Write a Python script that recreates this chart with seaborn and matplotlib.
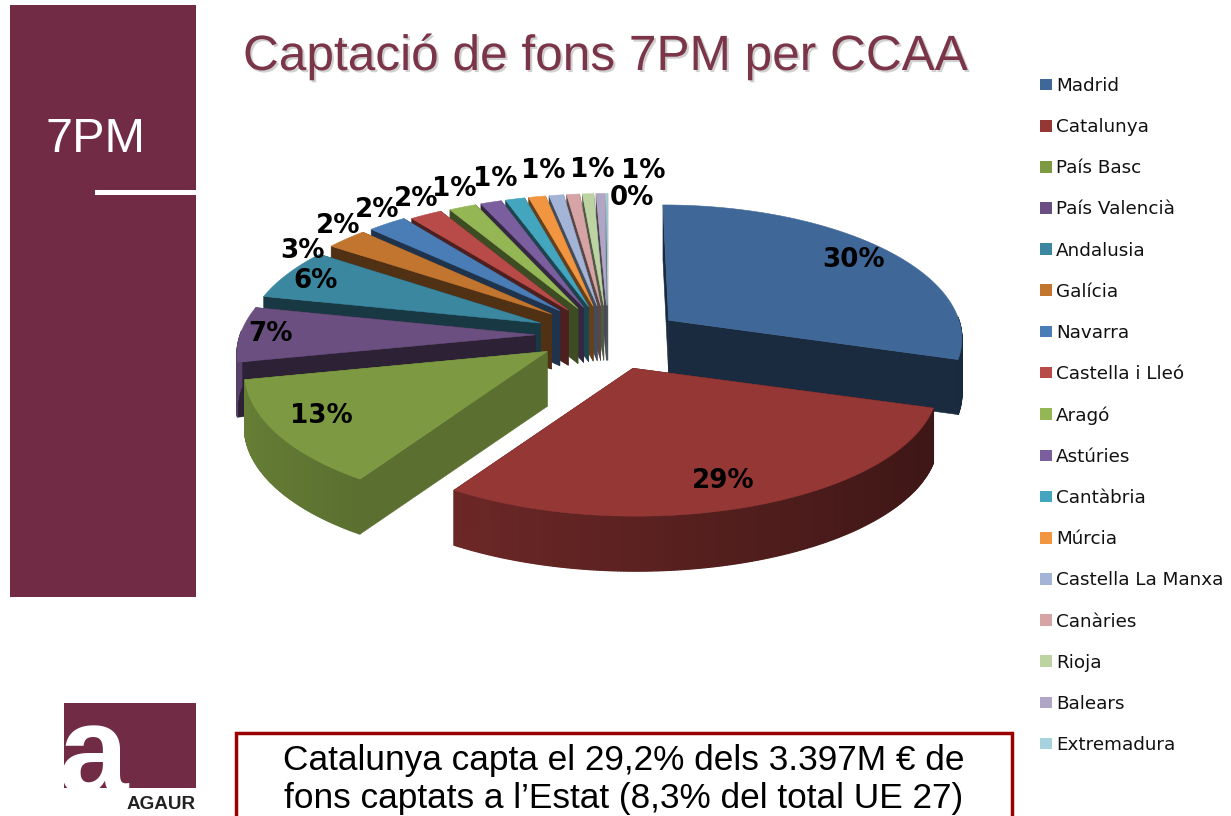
import numpy as np
import matplotlib
matplotlib.use("Agg")
import matplotlib.pyplot as plt
import matplotlib.patheffects as pe
from matplotlib.patches import Patch, Rectangle
import seaborn as sns

# ---- data ----
regions = ["Madrid", "Catalunya", "País Basc", "País Valencià", "Andalusia", "Galícia",
           "Navarra", "Castella i Lleó", "Aragó", "Astúries", "Cantàbria", "Múrcia",
           "Castella La Manxa", "Canàries", "Rioja", "Balears", "Extremadura"]
shares = [29.6, 29.2, 12.6, 6.6, 6.2, 2.6, 2.4, 2.0, 1.7, 1.3, 1.2, 1.05, 0.9, 0.8, 0.7, 0.55, 0.1]
colors = ["#3F6797", "#953735", "#7D9A42", "#6A4F80", "#3A879F", "#C2752F", "#4A7CB6", "#B84A48",
          "#94B655", "#7B5E9E", "#44A5BF", "#F29540", "#A3B4D6", "#D6A4A4", "#BDD4A2", "#B0A5C5", "#A6D3DE"]
title = "Captació de fons 7PM per CCAA"
note_lines = ["Catalunya capta el 29,2% dels 3.397M € de", "fons captats a l’Estat (8,3% del total UE 27)"]

# ---- layout ----
W, H = 1231, 816
MAROON = "#722B45"
CX, CY, RX, RY, K, DEPTH = 608, 335, 295, 132, 0.12, 55
explode = [0.23] * 17
nudge = {0: (7, 3), 1: (1, 4), 2: (-4, -1), 3: (-5, 0), 4: (-6, 0), 5: (-5, -2), 6: (-4, -2), 7: (-3, 0)}
xscale = {0: 1.0, 1: 1.0}
yscale = {0: 1.01, 1: 0.94}
cut_shade = {2: 0.72}
label_xy = {0: (854, 260), 1: (723, 481), 2: (321, 416), 3: (271, 334), 4: (316, 281), 5: (302, 251),
            6: (338, 226), 7: (377, 210), 8: (416, 199), 9: (454, 189), 10: (495, 179), 11: (543, 171),
            14: (592, 170), 15: (643, 171), 16: (632, 198)}

sns.set_theme(style="white", rc={"axes.facecolor": "white"})
palette = sns.color_palette(colors)

fig = plt.figure(figsize=(W / 100, H / 100), dpi=100)
ax = fig.add_axes([0, 0, 1, 1])
ax.set_xlim(0, W)
ax.set_ylim(H, 0)
ax.axis("off")


def project(X, Y, i):
    w = 1 + K * Y
    nx, ny = nudge.get(i, (0, 0))
    return CX + RX * X / w + nx, CY - RY * Y / w + ny


def darken(c, f):
    return tuple(min(1, v * f) for v in c)


def poly(xs, ys, color, z, lw=0.4):
    ax.fill(xs, ys, facecolor=color, edgecolor=color, lw=lw, zorder=z)


# side panel
ax.add_patch(Rectangle((10, 5), 186, 592, fc=MAROON, ec="none", zorder=1))
ax.text(45, 152, "7PM", color="white", fontsize=35, family="Liberation Sans", va="baseline", zorder=2)
ax.add_patch(Rectangle((95, 190), 101, 5, fc="white", ec="none", zorder=2))

# title
ax.text(606, 70, title, color="#7A3549", fontsize=35.7, family="Liberation Sans", ha="center", va="baseline", zorder=3,
        path_effects=[pe.SimplePatchShadow(offset=(1.5, -1.5), shadow_rgbFace="#8A8A8A", alpha=0.4), pe.Normal()])

# exploded pie
shares_arr = np.array(shares)
fracs = shares_arr / shares_arr.sum()
edges = 90 - 360 * np.concatenate([[0], np.cumsum(fracs)])
order = [0] + list(range(16, 1, -1)) + [1]
for z, i in enumerate(order):
    t0, t1 = np.radians(edges[i]), np.radians(edges[i + 1])
    m = (t0 + t1) / 2
    ex, ey = explode[i] * np.cos(m), explode[i] * np.sin(m)
    sx, sy = xscale.get(i, 1.0), yscale.get(i, 1.0)
    ts = np.linspace(t0, t1, max(4, int(abs(edges[i] - edges[i + 1]) * 2)))
    ax_, ay_ = project(ex, ey, i)
    px, py = project(ex + sx * np.cos(ts), ey + sy * np.sin(ts), i)
    base = 10 + z * 3
    col = palette[i]
    cut = darken(col, cut_shade.get(i, 0.42))
    # the two cut walls
    for qx, qy in ((px[0], py[0]), (px[-1], py[-1])):
        poly([ax_, qx, qx, ax_], [ay_, qy, qy + DEPTH, ay_ + DEPTH], cut, base)
    # the rim, shaded by where it faces
    for j in range(len(ts) - 1):
        tm = (ts[j] + ts[j + 1]) / 2
        if np.sin(tm) < 0.03:
            f = 0.40 + 0.42 * (0.5 - 0.5 * np.cos(tm))
            poly([px[j], px[j + 1], px[j + 1], px[j]],
                 [py[j], py[j + 1], py[j + 1] + DEPTH, py[j] + DEPTH], darken(col, f), base + 1, lw=0.9)
    # top face
    poly(np.r_[ax_, px], np.r_[ay_, py], col, base + 2)

for i, (lx, ly) in label_xy.items():
    ax.text(lx, ly, f"{round(shares[i])}%", fontsize=18.8, fontweight="bold", family="DejaVu Sans",
            color="black", ha="center", va="center", zorder=90)

# legend
handles = [Patch(fc=palette[i], ec="none", label=regions[i]) for i in range(17)]
leg = ax.legend(handles=handles, loc="upper left", bbox_to_anchor=(1040 / W, 1 - 77 / H),
                bbox_transform=fig.transFigure, frameon=False, fontsize=13.2,
                handlelength=0.65, handleheight=0.6, handletextpad=0.23, labelspacing=1.263,
                borderpad=0, borderaxespad=0)
for t in leg.get_texts():
    t.set_family("DejaVu Sans")
    t.set_color("#111111")

# logo
logo = Rectangle((64, 703), 132, 85, fc=MAROON, ec="none", zorder=1)
ax.add_patch(logo)
a = ax.text(93, 793, "a", color="white", fontsize=90, fontweight="bold", family="Liberation Sans", ha="center", va="baseline", zorder=2)
a.set_clip_path(logo)
ax.text(196, 809, "AGAUR", color="#222222", fontsize=13.6, fontweight="bold", family="Liberation Sans", ha="right", va="baseline", zorder=2)

# note box
ax.add_patch(Rectangle((236, 733), 776, 100, fc="white", ec="#9A0000", lw=2.5, zorder=1))
for y, line in zip((770, 808), note_lines):
    ax.text(624, y, line, color="black", fontsize=25.4, family="Liberation Sans", ha="center", va="baseline", zorder=2)

fig.savefig("out.png", dpi=100)
